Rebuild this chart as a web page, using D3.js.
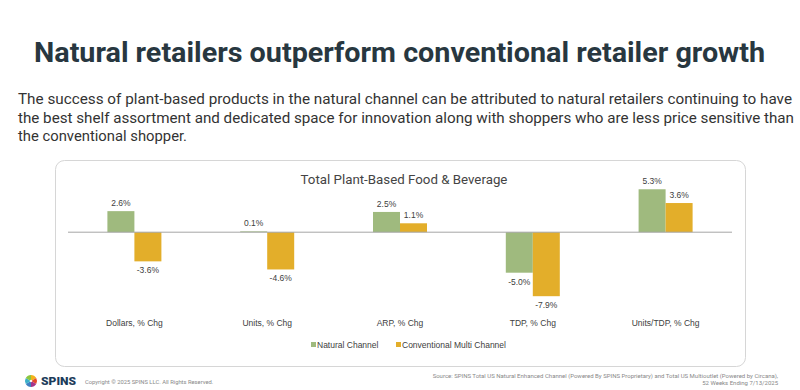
<!DOCTYPE html>
<html>
<head>
<meta charset="utf-8">
<script src="https://cdn.jsdelivr.net/npm/d3@7"></script>
<style>
  body { margin: 0; background: #fff; }
  svg { display: block; }
</style>
</head>
<body>
<svg width="800" height="390"></svg>
<script>
// data
const categories = ["Dollars, % Chg", "Units, % Chg", "ARP, % Chg", "TDP, % Chg", "Units/TDP, % Chg"];
const seriesNames = ["Natural Channel", "Conventional Multi Channel"];
const naturalValues = [2.6, 0.1, 2.5, -5.0, 5.3];
const conventionalValues = [-3.6, -4.6, 1.1, -7.9, 3.6];
const colors = ["#9fba7e", "#e3ae2a"];

const rows = categories.map((c, i) => ({
  cat: c,
  vals: [naturalValues[i], conventionalValues[i]]
}));

const svg = d3.select("svg");

// headline + intro
svg.append("text")
  .attr("x", 34).attr("y", 62)
  .attr("textLength", 731)
  .attr("lengthAdjust", "spacingAndGlyphs")
  .attr("font-family", "Roboto, sans-serif")
  .attr("font-weight", "bold")
  .attr("font-size", 28)
  .attr("fill", "#283740")
  .text("Natural retailers outperform conventional retailer growth");

const intro = [
  "The success of plant-based products in the natural channel can be attributed to natural retailers continuing to have",
  "the best shelf assortment and dedicated space for innovation along with shoppers who are less price sensitive than",
  "the conventional shopper."
];
const introWidth = [774, 776, 169];
svg.append("g")
  .selectAll("text")
  .data(intro)
  .join("text")
  .attr("x", 18)
  .attr("y", (d, i) => 104 + i * 18.5)
  .attr("textLength", (d, i) => introWidth[i])
  .attr("lengthAdjust", "spacingAndGlyphs")
  .attr("font-family", "Roboto, sans-serif")
  .attr("font-size", 15)
  .attr("fill", "#333")
  .text(d => d);

// card
svg.append("rect")
  .attr("x", 55.5).attr("y", 160.5)
  .attr("width", 690).attr("height", 206)
  .attr("rx", 9)
  .attr("fill", "#fff")
  .attr("stroke", "#d6d6d6");

svg.append("text")
  .attr("x", 404).attr("y", 184)
  .attr("text-anchor", "middle")
  .attr("font-family", "Roboto, sans-serif")
  .attr("font-size", 13.3)
  .attr("fill", "#444")
  .text("Total Plant-Based Food & Beverage");

// scales
const x0 = d3.scaleBand().domain(categories).range([68, 732]);
const x1 = d3.scaleBand().domain([0, 1]).range([0, 54]);
const y = d3.scaleLinear().domain([-8, 6]).range([297, 183.6]);
const pct = v => v.toFixed(1) + "%";

const groups = svg.append("g")
  .selectAll("g")
  .data(rows)
  .join("g")
  .attr("transform", d => `translate(${x0(d.cat) + (x0.bandwidth() - 54) / 2},0)`);

groups.selectAll("rect")
  .data(d => d.vals.map((v, i) => ({ v, i })))
  .join("rect")
  .attr("x", d => x1(d.i))
  .attr("width", x1.bandwidth())
  .attr("y", d => y(Math.max(0, d.v)))
  .attr("height", d => Math.abs(y(d.v) - y(0)))
  .attr("fill", d => colors[d.i]);

groups.selectAll("text")
  .data(d => d.vals.map((v, i) => ({ v, i })))
  .join("text")
  .attr("x", d => x1(d.i) + x1.bandwidth() / 2)
  .attr("y", d => d.v >= 0 ? y(d.v) - 5 : y(d.v) + 12)
  .attr("text-anchor", "middle")
  .attr("font-family", "'Liberation Sans', Arial, sans-serif")
  .attr("font-size", 8.5)
  .attr("fill", "#404040")
  .text(d => pct(d.v));

// zero line
svg.append("line")
  .attr("x1", 68).attr("x2", 732)
  .attr("y1", y(0)).attr("y2", y(0))
  .attr("stroke", "#a6a6a6")
  .attr("stroke-width", 1);

// category labels
svg.append("g")
  .selectAll("text")
  .data(categories)
  .join("text")
  .attr("x", d => x0(d) + x0.bandwidth() / 2)
  .attr("y", 326)
  .attr("text-anchor", "middle")
  .attr("font-family", "'Liberation Sans', Arial, sans-serif")
  .attr("font-size", 8.5)
  .attr("fill", "#404040")
  .text(d => d);

// legend
const legendX = [311, 396];
const legend = svg.append("g")
  .selectAll("g")
  .data(seriesNames)
  .join("g")
  .attr("transform", (d, i) => `translate(${legendX[i]},342)`);
legend.append("rect")
  .attr("width", 5).attr("height", 5)
  .attr("fill", (d, i) => colors[i]);
legend.append("text")
  .attr("x", 6).attr("y", 5.5)
  .attr("font-family", "'Liberation Sans', Arial, sans-serif")
  .attr("font-size", 8.5)
  .attr("fill", "#404040")
  .text(d => d);

// footer: logo
const logo = svg.append("g").attr("transform", "translate(31,381)");
const petals = ["#f2b21b", "#e5492b", "#a5338a", "#3f7fc1", "#3bb0c9", "#8cc63f"];
logo.selectAll("path")
  .data(d3.pie()(petals.map(() => 1)))
  .join("path")
  .attr("d", d3.arc().innerRadius(1.2).outerRadius(6))
  .attr("fill", (d, i) => petals[i]);

svg.append("text")
  .attr("x", 41).attr("y", 384.5)
  .attr("textLength", 35)
  .attr("lengthAdjust", "spacingAndGlyphs")
  .attr("font-family", "Roboto, sans-serif")
  .attr("font-weight", "900")
  .attr("font-size", 10.5)
  .attr("fill", "#1c3b5a")
  .text("SPINS");
svg.append("text")
  .attr("x", 85).attr("y", 383.5)
  .attr("font-family", "Roboto, sans-serif")
  .attr("font-size", 5.8)
  .attr("fill", "#888")
  .text("Copyright © 2025 SPINS LLC. All Rights Reserved.");

const sourceLines = [
  "Source: SPINS Total US Natural Enhanced Channel (Powered By SPINS Proprietary) and Total US Multioutlet (Powered by Circana),",
  "52 Weeks Ending 7/13/2025"
];
svg.append("g")
  .selectAll("text")
  .data(sourceLines)
  .join("text")
  .attr("x", 778)
  .attr("y", (d, i) => 378 + i * 6.7)
  .attr("text-anchor", "end")
  .attr("font-family", "Roboto, sans-serif")
  .attr("font-size", 6)
  .attr("fill", "#888")
  .text(d => d);
</script>
</body>
</html>
